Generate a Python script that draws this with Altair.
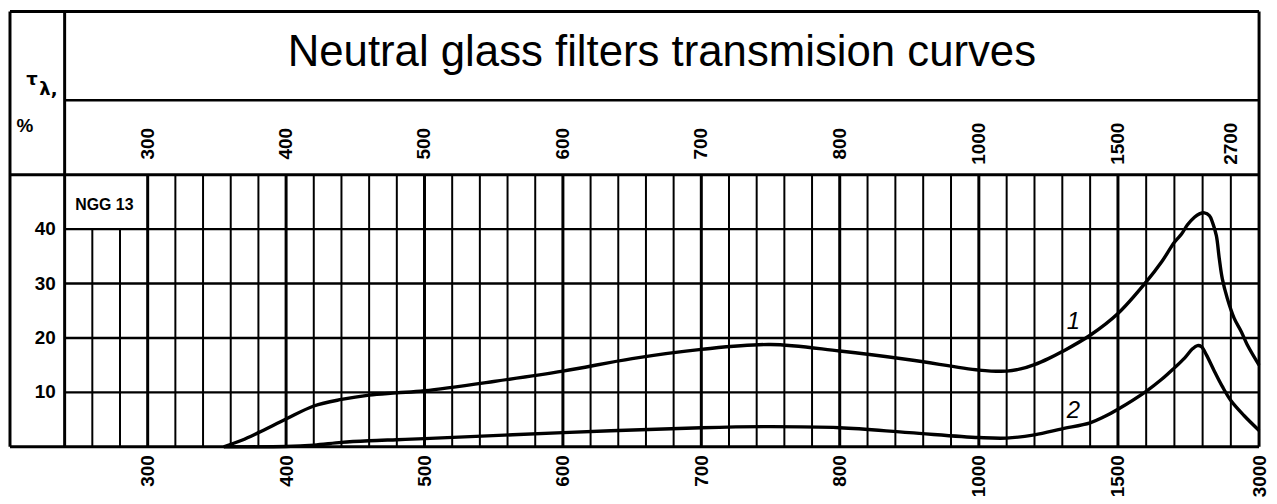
import altair as alt
import pandas as pd

# ---- data ----
wl_curve1 = [355, 368, 380, 400, 420, 440, 460, 480, 500, 550, 600, 650, 700, 750, 800, 900, 1000, 1100, 1150, 1200, 1250, 1300, 1400, 1500, 1800, 1965, 2100, 2176, 2239, 2313, 2366, 2419, 2472, 2504, 2546, 2577, 2609, 2662, 2736, 2810, 2873, 3000]
tau_curve1 = [0, 1.2, 2.6, 5.1, 7.5, 8.7, 9.5, 9.9, 10.3, 12.0, 13.9, 16.2, 17.9, 18.8, 17.6, 16.0, 14.1, 13.9, 14.3, 15.1, 16.2, 17.5, 20.5, 24.5, 30.3, 34.0, 37.6, 39.1, 40.8, 42.2, 42.8, 43.0, 42.5, 41.3, 38.8, 34.6, 30.9, 27.3, 23.6, 21.2, 18.8, 15.0]
wl_curve2 = [355, 400, 420, 440, 460, 480, 500, 600, 700, 750, 800, 900, 1000, 1100, 1200, 1300, 1400, 1450, 1500, 1800, 1965, 2100, 2208, 2292, 2345, 2387, 2440, 2525, 2609, 2704, 2842, 3000]
tau_curve2 = [0, 0.05, 0.3, 0.8, 1.1, 1.3, 1.5, 2.6, 3.5, 3.7, 3.5, 2.6, 1.7, 1.6, 2.2, 3.3, 4.4, 5.5, 6.9, 10.2, 12.4, 14.5, 16.3, 18.0, 18.6, 18.4, 16.9, 13.9, 11.1, 8.4, 5.7, 3.0]

bottom_ticks = [300, 400, 500, 600, 700, 800, 1000, 1500, 3000]
top_ticks = [300, 400, 500, 600, 700, 800, 1000, 1500, 2700]
top_labels = ["300", "400", "500", "600", "700", "800", "1000", "1500", "2700"]
y_ticks = [10, 20, 30, 40]
y_labels = ["10", "20", "30", "40"]

grid_wl = [240, 260, 280, 300, 320, 340, 360, 380, 400, 420, 440, 460, 480, 500,
           520, 540, 560, 580, 600, 620, 640, 660, 680, 700, 720, 740, 760, 780, 800,
           840, 880, 920, 960, 1000, 1100, 1200, 1300, 1400, 1500,
           1800, 2100, 2400, 2700, 3000]
major_wl = [300, 400, 500, 600, 700, 800, 1000, 1500]
box_wl = [260, 280]  # lines interrupted by the "NGG 13" box

title_text = "Neutral glass filters transmision curves"
filter_name = "NGG 13"
curve_names = ["1", "2"]

# ---- scales ----
xs = alt.Scale(domain=[200, 240, 800, 1000, 1500, 3000],
               range=[0, 55, 835, 975, 1115, 1257], nice=False, zero=False)
ys = alt.Scale(domain=[0, 80], nice=False, zero=False)

x_axis = alt.Axis(values=bottom_ticks, format="d", labelAngle=270, labelFontSize=19,
                  labelFont="Liberation Sans", labelFontWeight="bold",
                  labelColor="black", labelPadding=8, domain=False, ticks=False,
                  grid=False, title=None, labelFlush=False, labelOverlap=False)


def X(field):
    return alt.X(field, type="quantitative", scale=xs, axis=x_axis)


def Y(field):
    return alt.Y(field, type="quantitative", scale=ys, axis=None)


# vertical lines
vrows = []
for w in grid_wl:
    top = 40 if w in box_wl else 50
    if w in (240, 3000):
        vrows.append({"wl": w, "y0": 0, "y1": 80, "sw": 3})
    elif w in major_wl:
        vrows.append({"wl": w, "y0": 0, "y1": top, "sw": 3})
    else:
        vrows.append({"wl": w, "y0": 0, "y1": top, "sw": 2})
vrows.append({"wl": 200, "y0": 0, "y1": 80, "sw": 3})
df_v = pd.DataFrame(vrows)

# horizontal lines
hrows = [{"tau": t, "x0": 240, "x1": 3000, "sw": 2.4} for t in y_ticks]
hrows += [
    {"tau": 0, "x0": 200, "x1": 3000, "sw": 3.2},
    {"tau": 50, "x0": 200, "x1": 3000, "sw": 3.2},
    {"tau": 63.7, "x0": 240, "x1": 3000, "sw": 2.6},
    {"tau": 80, "x0": 200, "x1": 3000, "sw": 3.2},
]
df_h = pd.DataFrame(hrows)

df_c = pd.concat([
    pd.DataFrame({"wl": wl_curve1, "tau": tau_curve1, "curve": "1"}),
    pd.DataFrame({"wl": wl_curve2, "tau": tau_curve2, "curve": "2"}),
])

vlines = alt.Chart(df_v).mark_rule(color="black").encode(
    x=X("wl"), y=Y("y0"), y2="y1",
    strokeWidth=alt.StrokeWidth("sw:Q", scale=None, legend=None))

hlines = alt.Chart(df_h).mark_rule(color="black").encode(
    y=Y("tau"), x=X("x0"), x2="x1",
    strokeWidth=alt.StrokeWidth("sw:Q", scale=None, legend=None))

curves = alt.Chart(df_c).mark_line(color="black", strokeWidth=3.4,
                                   interpolate="catmull-rom").encode(
    x=X("wl"), y=Y("tau"), detail="curve:N")

title = alt.Chart(pd.DataFrame({"wl": [671.5], "tau": [72.3], "t": [title_text]})).mark_text(
    font="Liberation Sans", fontSize=44, color="black", align="center", baseline="middle"
).encode(x=X("wl"), y=Y("tau"), text="t:N")

top_lab = alt.Chart(pd.DataFrame({"wl": top_ticks, "tau": [55.7] * len(top_ticks), "t": top_labels})).mark_text(
    font="Liberation Sans", fontSize=19, fontWeight="bold", color="black", angle=270,
    align="center", baseline="middle"
).encode(x=X("wl"), y=Y("tau"), text="t:N")

y_lab = alt.Chart(pd.DataFrame({"wl": [233.5] * 4, "tau": y_ticks, "t": y_labels})).mark_text(
    font="Liberation Sans", fontSize=19, fontWeight="bold", color="black",
    align="right", baseline="middle"
).encode(x=X("wl"), y=Y("tau"), text="t:N")

ngg = alt.Chart(pd.DataFrame({"wl": [268.7], "tau": [44.5], "t": [filter_name]})).mark_text(
    font="Liberation Sans", fontSize=16, fontWeight="bold", color="black",
    align="center", baseline="middle"
).encode(x=X("wl"), y=Y("tau"), text="t:N")

tau_sym = alt.Chart(pd.DataFrame({"wl": [216.0], "tau": [67.4], "t": ["τ"]})).mark_text(
    font="DejaVu Sans", fontSize=18, fontWeight="bold", color="black", align="center", baseline="middle"
).encode(x=X("wl"), y=Y("tau"), text="t:N")

lam_sym = alt.Chart(pd.DataFrame({"wl": [221.5], "tau": [65.6], "t": ["λ,"]})).mark_text(
    font="DejaVu Sans", fontSize=18, fontWeight="bold", color="black", align="left", baseline="middle"
).encode(x=X("wl"), y=Y("tau"), text="t:N")

pct = alt.Chart(pd.DataFrame({"wl": [210.9], "tau": [59.0], "t": ["%"]})).mark_text(
    font="Liberation Sans", fontSize=19, fontWeight="bold", color="black", align="center", baseline="middle"
).encode(x=X("wl"), y=Y("tau"), text="t:N")

curve_lab = alt.Chart(pd.DataFrame({"wl": [1340, 1340], "tau": [23.0, 6.6], "t": curve_names})).mark_text(
    font="Liberation Sans", fontSize=24, fontStyle="italic", color="black",
    align="center", baseline="middle"
).encode(x=X("wl"), y=Y("tau"), text="t:N")

chart = alt.layer(vlines, hlines, curves, title, top_lab, y_lab, ngg, tau_sym, lam_sym, pct, curve_lab).properties(
    width=1257, height=438,
    padding={"left": 0, "top": 0, "right": 0, "bottom": 0},
    background="white",
).configure_view(stroke=None)

chart.save("out.html", embed_options={"renderer": "svg", "actions": False})
